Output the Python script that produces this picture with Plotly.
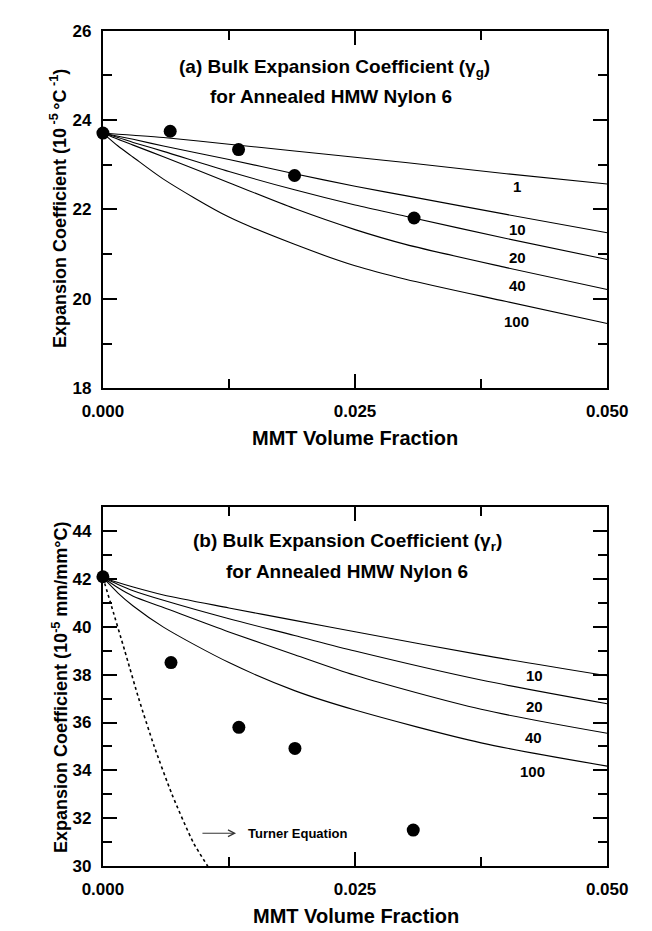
import plotly.graph_objects as go

FONT = "Liberation Sans, Arial, sans-serif"

# ---------------- Panel (a): gamma_g ----------------
a_pts_x = [0.0, 0.00667, 0.01345, 0.01900, 0.03085]
a_pts_y = [23.71, 23.75, 23.34, 22.76, 21.81]

a_curve_x = [0, 0.0015, 0.003, 0.006, 0.0125, 0.019, 0.025, 0.03, 0.04, 0.05]
a_c1 = [23.71, 23.685, 23.66, 23.61, 23.46, 23.31, 23.17, 23.05, 22.80, 22.57]
a_c10 = [23.71, 23.64, 23.57, 23.42, 23.12, 22.80, 22.52, 22.31, 21.89, 21.48]
a_c20 = [23.71, 23.61, 23.50, 23.30, 22.85, 22.44, 22.10, 21.85, 21.35, 20.88]
a_c40 = [23.71, 23.57, 23.44, 23.18, 22.60, 22.02, 21.55, 21.22, 20.70, 20.21]
a_c100 = [23.71, 23.42, 23.17, 22.68, 21.83, 21.22, 20.74, 20.44, 19.94, 19.45]
a_curves = {"1": a_c1, "10": a_c10, "20": a_c20, "40": a_c40, "100": a_c100}
a_label_pos = {"1": (0.0411, 22.51), "10": (0.0411, 21.55), "20": (0.0411, 20.92),
               "40": (0.0411, 20.29), "100": (0.0410, 19.49)}

# ---------------- Panel (b): gamma_r ----------------
b_pts_x = [0.0, 0.00675, 0.01348, 0.01904, 0.03077]
b_pts_y = [42.08, 38.50, 35.80, 34.92, 31.51]

b_curve_x = [0, 0.0015, 0.003, 0.006, 0.0125, 0.019, 0.025, 0.0375, 0.05]
b_c10 = [42.05, 41.84, 41.65, 41.32, 40.78, 40.26, 39.79, 38.82, 37.95]
b_c20 = [42.05, 41.76, 41.50, 41.10, 40.33, 39.63, 38.98, 37.77, 36.78]
b_c40 = [42.05, 41.62, 41.27, 40.80, 39.78, 38.83, 37.97, 36.55, 35.55]
b_c100 = [42.05, 41.40, 40.86, 39.98, 38.50, 37.33, 36.52, 35.15, 34.18]
b_curves = {"10": b_c10, "20": b_c20, "40": b_c40, "100": b_c100}
b_label_pos = {"10": (0.0428, 37.95), "20": (0.0428, 36.67),
               "40": (0.0427, 35.37), "100": (0.0426, 33.96)}

turner_x = [0.0, 0.00075, 0.00216, 0.00355, 0.00509, 0.00685, 0.00895, 0.0104]
turner_y = [42.05, 41.0, 39.0, 37.0, 35.0, 33.0, 31.0, 30.0]

x_ticks = [0.0, 0.025, 0.05]
x_ticktext = ["0.000", "0.025", "0.050"]

W, H = 652, 931
fig = go.Figure()

# curves panel a
for name, ys in a_curves.items():
    fig.add_trace(go.Scatter(x=a_curve_x, y=ys, mode="lines", xaxis="x", yaxis="y",
                             line=dict(color="black", width=1.1, shape="spline", smoothing=0.8),
                             showlegend=False, hoverinfo="skip"))
fig.add_trace(go.Scatter(x=a_pts_x, y=a_pts_y, mode="markers", xaxis="x", yaxis="y",
                         marker=dict(color="black", size=13), showlegend=False, cliponaxis=False))

# curves panel b
for name, ys in b_curves.items():
    fig.add_trace(go.Scatter(x=b_curve_x, y=ys, mode="lines", xaxis="x2", yaxis="y2",
                             line=dict(color="black", width=1.1, shape="spline", smoothing=0.8),
                             showlegend=False, hoverinfo="skip"))
fig.add_trace(go.Scatter(x=turner_x, y=turner_y, mode="lines", xaxis="x2", yaxis="y2",
                         line=dict(color="black", width=1.6, dash="dot", shape="spline", smoothing=0.6),
                         showlegend=False, hoverinfo="skip"))
fig.add_trace(go.Scatter(x=b_pts_x, y=b_pts_y, mode="markers", xaxis="x2", yaxis="y2",
                         marker=dict(color="black", size=13), showlegend=False, cliponaxis=False))


def px_x(p):
    return p / W


def px_y(p):
    return 1 - p / H


xdom = [px_x(79), px_x(618)]
axis_common = dict(
    showline=True, linecolor="black", linewidth=2, mirror="ticks",
    ticks="inside", ticklen=14, tickwidth=2, tickcolor="black",
    showgrid=False, zeroline=False,
    tickfont=dict(family=FONT, size=17, color="black", weight="bold"),
)
xaxis_common = dict(axis_common, range=[0, 0.05], tickvals=x_ticks, ticktext=x_ticktext,
                    minor=dict(ticks="inside", ticklen=9, tickwidth=2, tickcolor="black",
                               dtick=0.0125, tick0=0, showgrid=False),
                    ticklabelstandoff=6)
yaxis_common = dict(axis_common,
                    minor=dict(ticks="inside", ticklen=9, tickwidth=2, tickcolor="black",
                               dtick=1, showgrid=False),
                    ticklabelstandoff=6)

fig.update_layout(
    width=W, height=H,
    margin=dict(l=0, r=0, t=0, b=0),
    paper_bgcolor="white", plot_bgcolor="white",
    font=dict(family=FONT, color="black"),
    xaxis=dict(xaxis_common, domain=xdom, anchor="y"),
    yaxis=dict(yaxis_common, domain=[px_y(379), px_y(14)], range=[18, 26], dtick=2, tick0=18, anchor="x"),
    xaxis2=dict(xaxis_common, domain=xdom, anchor="y2"),
    yaxis2=dict(yaxis_common, domain=[px_y(867), px_y(500)], range=[30, 45], dtick=2, tick0=30, anchor="x2"),
)

ann = []
bold = dict(family=FONT, color="black", weight="bold")
C = dict(xanchor="center", yanchor="middle", showarrow=False)
# curve labels
for k, (x, y) in a_label_pos.items():
    ann.append(dict(C, x=x, y=y, xref="x", yref="y", text=k, font=dict(bold, size=15)))
for k, (x, y) in b_label_pos.items():
    ann.append(dict(C, x=x, y=y, xref="x2", yref="y2", text=k, font=dict(bold, size=15)))

# panel titles
ann.append(dict(C, x=0.0230, y=25.16, xref="x", yref="y",
                text="(a) Bulk Expansion Coefficient (γ<sub>g</sub>)", font=dict(bold, size=19)))
ann.append(dict(C, x=0.0226, y=24.52, xref="x", yref="y",
                text="for Annealed HMW Nylon 6", font=dict(bold, size=19)))
ann.append(dict(C, x=0.0243, y=43.52, xref="x2", yref="y2",
                text="(b) Bulk Expansion Coefficient (γ<sub>r</sub>)", font=dict(bold, size=19)))
ann.append(dict(C, x=0.0242, y=42.29, xref="x2", yref="y2",
                text="for Annealed HMW Nylon 6", font=dict(bold, size=19)))

# Turner annotation
ann.append(dict(x=0.0132, y=31.38, xref="x2", yref="y2", ax=0.00972, ay=31.38,
                axref="x2", ayref="y2", text="", showarrow=True, arrowhead=5,
                arrowwidth=1, arrowsize=1.3, arrowcolor="#333333"))
ann.append(dict(x=0.0142, y=31.38, xref="x2", yref="y2", xanchor="left", yanchor="middle",
                showarrow=False, text="Turner Equation", font=dict(bold, size=13)))

# axis titles
ann.append(dict(C, x=px_x(31), y=px_y(196), xref="paper", yref="paper", textangle=-90,
                text="Expansion Coefficient (10<sup> -5 </sup>°C<sup> -1</sup>)", font=dict(bold, size=18)))
ann.append(dict(C, x=px_x(33), y=px_y(684), xref="paper", yref="paper", textangle=-90,
                text="Expansion Coefficient (10<sup>-5</sup> mm/mm°C)", font=dict(bold, size=18)))
ann.append(dict(C, x=px_x(348), y=px_y(430), xref="paper", yref="paper",
                text="MMT Volume Fraction", font=dict(bold, size=20)))
ann.append(dict(C, x=px_x(350), y=px_y(918), xref="paper", yref="paper",
                text="MMT Volume Fraction", font=dict(bold, size=20)))

fig.update_layout(annotations=ann)
fig.write_html("out.html")
